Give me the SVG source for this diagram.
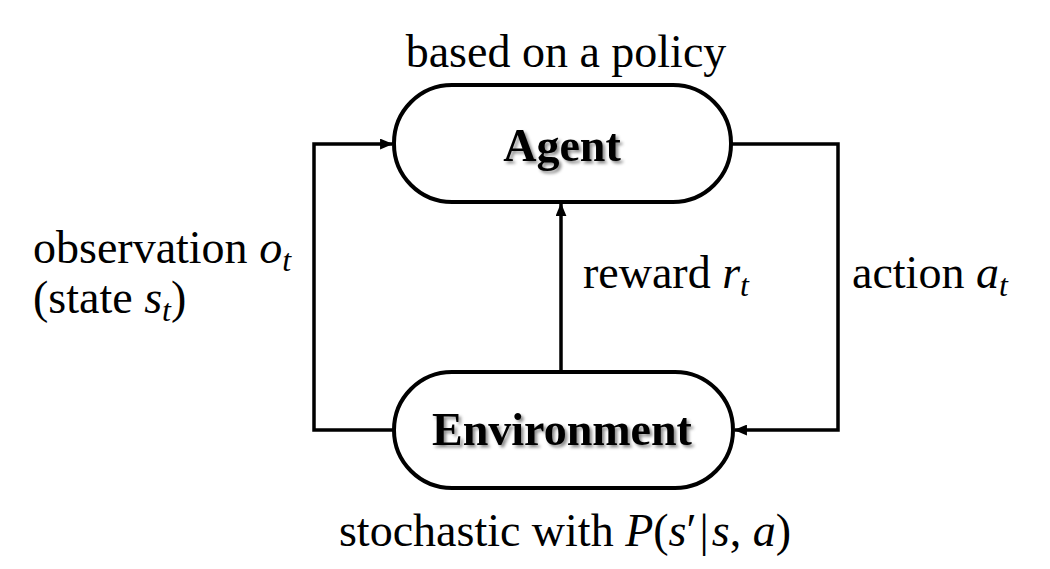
<svg xmlns="http://www.w3.org/2000/svg" width="1050" height="569" viewBox="0 0 1050 569">
  <style>
    .node { fill: #fff; stroke: #000; stroke-width: 4; }
    .conn { fill: none; stroke: #000; stroke-width: 3.5; }
    .lbl { font-family: "Liberation Serif", "Times New Roman", serif; font-size: 46px; fill: #000; }
    .title { font-family: "Liberation Serif", "Times New Roman", serif; font-size: 46px; font-weight: bold; fill: #000; }
    .m { font-style: italic; }
    .sub { font-style: italic; font-size: 32px; }
  </style>
  <defs>
    <marker id="arr" viewBox="0 0 12 10" refX="11" refY="5" markerWidth="13" markerHeight="11" markerUnits="userSpaceOnUse" orient="auto">
      <path d="M0,0 L12,5 L0,10 Z" fill="#000"/>
    </marker>
    <filter id="shadow" x="-10%" y="-20%" width="130%" height="150%">
      <feDropShadow dx="2.5" dy="2.5" stdDeviation="1.8" flood-color="#000" flood-opacity="0.45"/>
    </filter>
  </defs>
  <rect width="1050" height="569" fill="#fff"/>

  <g id="connectors">
    <path class="conn" d="M394,430 H314 V144 H392" marker-end="url(#arr)"/>
    <path class="conn" d="M731,144 H838 V430 H735" marker-end="url(#arr)"/>
    <path class="conn" d="M561,372 V204" marker-end="url(#arr)"/>
  </g>

  <g id="agent">
    <rect class="node" x="394" y="85" width="337" height="117" rx="58" ry="58"/>
    <text class="title" x="562" y="161" text-anchor="middle" filter="url(#shadow)">Agent</text>
    <text class="lbl" x="566" y="67" text-anchor="middle">based on a policy</text>
  </g>

  <g id="environment">
    <rect class="node" x="394" y="372" width="339" height="116" rx="58" ry="58"/>
    <text class="title" x="562" y="445" text-anchor="middle" filter="url(#shadow)">Environment</text>
    <text class="lbl" x="565" y="546" text-anchor="middle">stochastic with <tspan class="m">P</tspan>(<tspan class="m">s</tspan>′<tspan dx="3">|</tspan><tspan class="m" dx="3">s</tspan>, <tspan class="m">a</tspan>)</text>
  </g>

  <g id="labels">
    <text class="lbl" x="33" y="263">observation <tspan class="m">o</tspan><tspan class="sub" dy="8">t</tspan></text>
    <text class="lbl" x="33" y="313">(state <tspan class="m">s</tspan><tspan class="sub" dy="8">t</tspan><tspan dy="-8">)</tspan></text>
    <text class="lbl" x="583" y="288">reward <tspan class="m">r</tspan><tspan class="sub" dy="8">t</tspan></text>
    <text class="lbl" x="852" y="288">action <tspan class="m">a</tspan><tspan class="sub" dy="8">t</tspan></text>
  </g>
</svg>
